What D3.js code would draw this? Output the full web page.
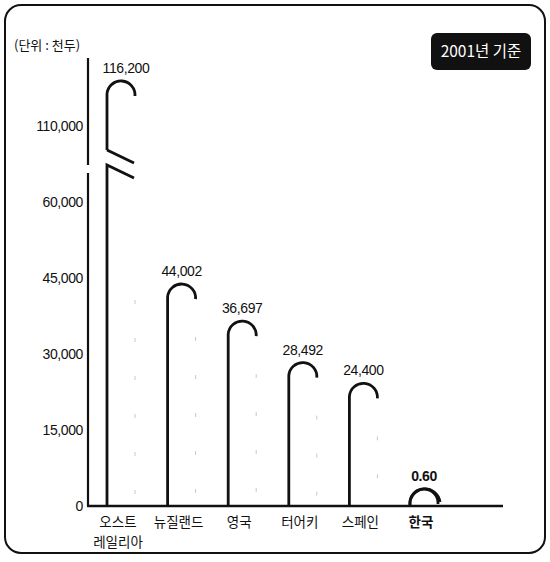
<!DOCTYPE html>
<html><head><meta charset="utf-8">
<script src="https://cdn.jsdelivr.net/npm/d3@7"></script>
<style>html,body{margin:0;padding:0;background:#fff;}svg{display:block;}</style>
</head><body>
<svg id="chart" width="550" height="562"></svg>
<script>
const categories = ["오스트레일리아", "뉴질랜드", "영국", "터어키", "스페인", "한국"];
const categoryLines = [["오스트", "레일리아"], ["뉴질랜드"], ["영국"], ["터어키"], ["스페인"], ["한국"]];
const values = [116200, 44002, 36697, 28492, 24400, 0.60];
const valueLabels = ["116,200", "44,002", "36,697", "28,492", "24,400", "0.60"];
const yTicks = [0, 15000, 30000, 45000, 60000, 110000];
const unitLabel = "(단위 : 천두)";
const badgeLabel = "2001년 기준";
const highlight = "한국";

const svg = d3.select("#chart");
const latin = "'Liberation Sans', Arial, sans-serif";
const kr = "'Noto Sans CJK KR', 'Noto Sans', sans-serif";

// frame
svg.append("rect").attr("x", 5).attr("y", 5).attr("width", 540).attr("height", 548)
  .attr("rx", 16).attr("fill", "none").attr("stroke", "#111").attr("stroke-width", 2);

// scales (broken y scale)
const y = d3.scaleLinear().domain([0, 60000, 110000, 116200]).range([506, 202, 126, 80]);
const x = d3.scalePoint().domain(categories).range([121, 424]);
const r = 14;
const axisX = 88;

// unit label
svg.append("text").attr("x", 14).attr("y", 50).attr("font-family", kr).attr("font-size", 13)
  .attr("fill", "#111").text(unitLabel);

// badge
svg.append("rect").attr("x", 431).attr("y", 33).attr("width", 100).attr("height", 37)
  .attr("rx", 6).attr("fill", "#111");
svg.append("text").attr("x", 481).attr("y", 57).attr("text-anchor", "middle")
  .attr("font-family", kr).attr("font-size", 15.5).attr("fill", "#fff").text(badgeLabel);

// axis labels
const axis = d3.axisLeft(y).tickValues(yTicks).tickSize(0).tickPadding(5).tickFormat(d3.format(","));
const ag = svg.append("g").attr("transform", `translate(${axisX},0)`).call(axis);
ag.select(".domain").remove();
ag.selectAll("text").attr("font-family", latin).attr("font-size", 14).attr("letter-spacing", -0.4).attr("fill", "#111");

// broken axis line
svg.append("line").attr("x1", axisX).attr("x2", axisX).attr("y1", 58).attr("y2", 165)
  .attr("stroke", "#111").attr("stroke-width", 2.2);
svg.append("line").attr("x1", axisX).attr("x2", axisX).attr("y1", 173).attr("y2", y(0))
  .attr("stroke", "#111").attr("stroke-width", 2.2);
// baseline
svg.append("line").attr("x1", axisX - 1).attr("x2", 503).attr("y1", y(0)).attr("y2", y(0))
  .attr("stroke", "#111").attr("stroke-width", 2.4);

// bars as hooks
const bars = svg.append("g");
categories.forEach((c, i) => {
  const cx = x(c);
  const xl = cx - r;
  const base = y(0);
  const top = Math.min(y(values[i]), base - r - 4);
  const g = bars.append("g");
  // faint dotted trace under the hook end
  if (i < categories.length - 1) {
    g.append("line").attr("x1", cx + r).attr("x2", cx + r).attr("y1", Math.max(top + r + 40, 300)).attr("y2", base - 2)
      .attr("stroke", "#c8c8c8").attr("stroke-width", 1).attr("stroke-dasharray", "4,34");
  }
  if (i === 0) {
    // broken bar
    g.append("path").attr("d", `M${xl},150 L${xl},${top + r} A${r},${r} 0 0 1 ${xl + 2 * r},${top + r + 2}`)
      .attr("fill", "none").attr("stroke", "#111").attr("stroke-width", 2.8);
    g.append("path").attr("d", `M${xl},150 L${xl + 27},163`)
      .attr("fill", "none").attr("stroke", "#111").attr("stroke-width", 2.8);
    g.append("path").attr("d", `M${xl},${base} L${xl},165 L${xl + 27},178`)
      .attr("fill", "none").attr("stroke", "#111").attr("stroke-width", 2.8);
  } else if (top + r < base) {
    g.append("path").attr("d", `M${xl},${base} L${xl},${top + r} A${r},${r} 0 0 1 ${xl + 2 * r},${top + r + 2}`)
      .attr("fill", "none").attr("stroke", "#111").attr("stroke-width", 2.8);
  }
  if (i === categories.length - 1) {
    g.append("path").attr("d", `M${xl},${base} A${r + 1},${r + 1} 0 0 1 ${xl + 2 * r + 2},${base - 4}`)
      .attr("fill", "none").attr("stroke", "#111").attr("stroke-width", 2.8);
  }
  const isHi = c === highlight;
  g.append("text").attr("x", cx + (i === 0 ? 5 : 0)).attr("y", top - 7).attr("text-anchor", "middle")
    .attr("font-family", latin).attr("font-size", 14).attr("letter-spacing", -0.4)
    .attr("font-weight", isHi ? "bold" : "normal").attr("fill", "#111").text(valueLabels[i]);
  const t = g.append("text").attr("text-anchor", "middle").attr("font-family", kr)
    .attr("font-size", 13.5).attr("font-weight", isHi ? "bold" : "normal").attr("fill", "#111");
  categoryLines[i].forEach((ln, k) => {
    t.append("tspan").attr("x", cx - 3).attr("y", 527 + k * 20).text(ln);
  });
});
</script>
</body></html>
